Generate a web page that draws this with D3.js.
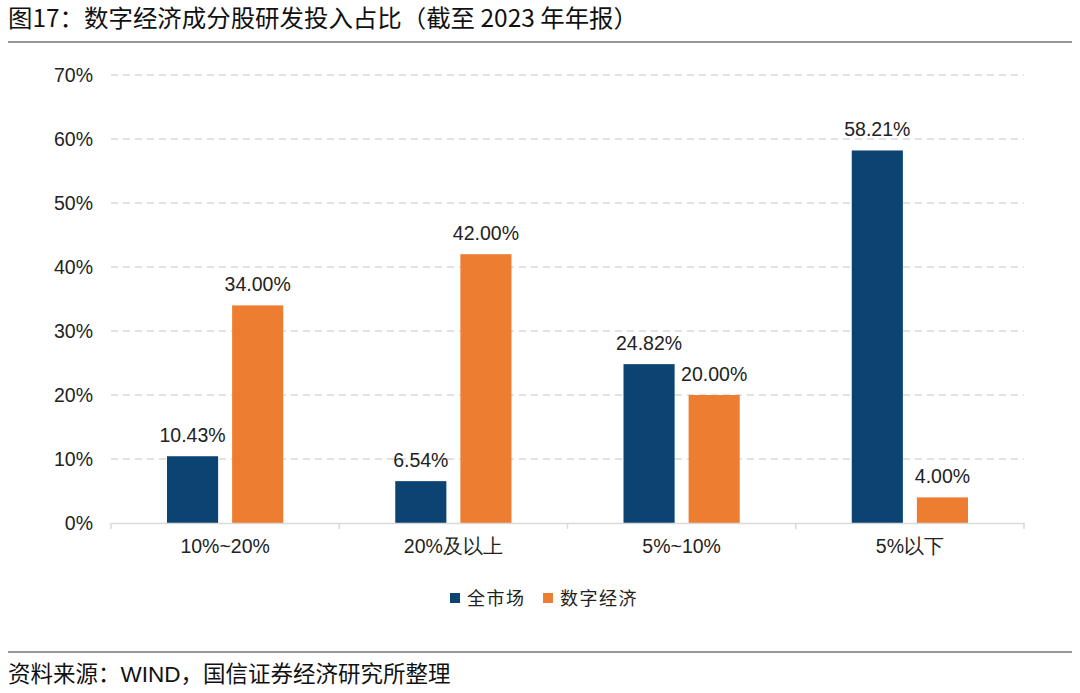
<!DOCTYPE html>
<html><head><meta charset="utf-8">
<script src="https://cdn.jsdelivr.net/npm/d3@7"></script>
<style>
body{margin:0;background:#fff;}
svg{display:block;font-family:"Liberation Sans",Arial,"Noto Sans CJK SC",sans-serif;}
</style></head>
<body><svg id="c" width="1080" height="693"></svg>
<script>
const categories = ["10%~20%", "20%及以上", "5%~10%", "5%以下"];
const seriesNames = ["全市场", "数字经济"];
const allMarket = [10.43, 6.54, 24.82, 58.21];
const digitalEconomy = [34.00, 42.00, 20.00, 4.00];
const yTicks = [0, 10, 20, 30, 40, 50, 60, 70];
const colors = ["#0B4373", "#ED7D31"];

const svg = d3.select("#c");
const mLeft = 111, mRight = 1024, mTop = 75, mBottom = 523;
const fs = 19.5;

// title
svg.append("text").attr("x", 8).attr("y", 27)
  .attr("font-family", "'Liberation Sans Narrow','Noto Sans CJK SC',sans-serif")
  .attr("font-size", 24).attr("fill", "#111")
  .attr("textLength", 630).attr("lengthAdjust", "spacingAndGlyphs")
  .text("图17：数字经济成分股研发投入占比（截至 2023 年年报）");
svg.append("line").attr("x1", 8).attr("x2", 1072).attr("y1", 42).attr("y2", 42)
  .attr("stroke", "#333").attr("stroke-width", 1.2);

const x = d3.scaleBand().domain(categories).range([mLeft, mRight]).paddingInner(0).paddingOuter(0);
const x1 = d3.scaleBand().domain(seriesNames).range([0, x.bandwidth()]).paddingInner(0.215).paddingOuter(0.86);
const y = d3.scaleLinear().domain([0, 70]).range([mBottom, mTop]);

// grid
svg.append("g").selectAll("line").data(yTicks.filter(d => d > 0)).join("line")
  .attr("x1", mLeft).attr("x2", mRight)
  .attr("y1", d => y(d)).attr("y2", d => y(d))
  .attr("stroke", "#d9d9d9").attr("stroke-width", 1.3).attr("stroke-dasharray", "7,5");

// y axis labels
const yAxis = d3.axisLeft(y).tickValues(yTicks).tickFormat(d => d + "%").tickSize(0).tickPadding(0);
const ya = svg.append("g").attr("transform", `translate(${mLeft - 18},0)`).call(yAxis);
ya.select(".domain").remove();
ya.selectAll("text").attr("font-size", fs).attr("fill", "#222").attr("dy", "0.35em")
  .attr("font-family", "'Liberation Sans',Arial,sans-serif");

// bars
const data = categories.map((c, i) => ({ c, vals: [allMarket[i], digitalEconomy[i]] }));
const g = svg.append("g");
data.forEach(d => {
  d.vals.forEach((v, j) => {
    const bx = x(d.c) + x1(seriesNames[j]);
    g.append("rect").attr("x", bx).attr("y", y(v)).attr("width", x1.bandwidth())
      .attr("height", y(0) - y(v)).attr("fill", colors[j]);
    g.append("text").attr("x", bx + x1.bandwidth() / 2).attr("y", y(v) - 14)
      .attr("text-anchor", "middle").attr("font-size", fs).attr("fill", "#222")
      .text(v.toFixed(2) + "%");
  });
});

// x axis
const xAxis = d3.axisBottom(x).tickSize(0).tickPadding(0);
const xa = svg.append("g").attr("transform", `translate(0,${mBottom})`).call(xAxis);
xa.select(".domain").attr("stroke", "#d9d9d9").attr("stroke-width", 1.5);
xa.selectAll("text").attr("font-size", fs).attr("fill", "#222").attr("dy", 0).attr("y", 30);
// tick marks at band edges
const edges = categories.map(c => x(c)).concat([mRight]);
svg.append("g").selectAll("line").data(edges).join("line")
  .attr("x1", d => d).attr("x2", d => d).attr("y1", mBottom).attr("y2", mBottom + 6)
  .attr("stroke", "#d9d9d9").attr("stroke-width", 1.5);

// legend
const legend = svg.append("g");
const lx = [450, 543];
seriesNames.forEach((s, i) => {
  legend.append("rect").attr("x", lx[i]).attr("y", 593).attr("width", 10).attr("height", 10).attr("fill", colors[i]);
  legend.append("text").attr("x", lx[i] + 17).attr("y", 605)
    .attr("font-family", "'Noto Sans CJK SC',sans-serif")
    .attr("font-size", 18).attr("letter-spacing", 1.5).attr("fill", "#222").text(s);
});

// source
svg.append("line").attr("x1", 8).attr("x2", 1072).attr("y1", 652).attr("y2", 652)
  .attr("stroke", "#333").attr("stroke-width", 1.2);
svg.append("text").attr("x", 8).attr("y", 682)
  .attr("font-size", 22.5).attr("fill", "#111")
  .text("资料来源：WIND，国信证券经济研究所整理");
</script></body></html>
